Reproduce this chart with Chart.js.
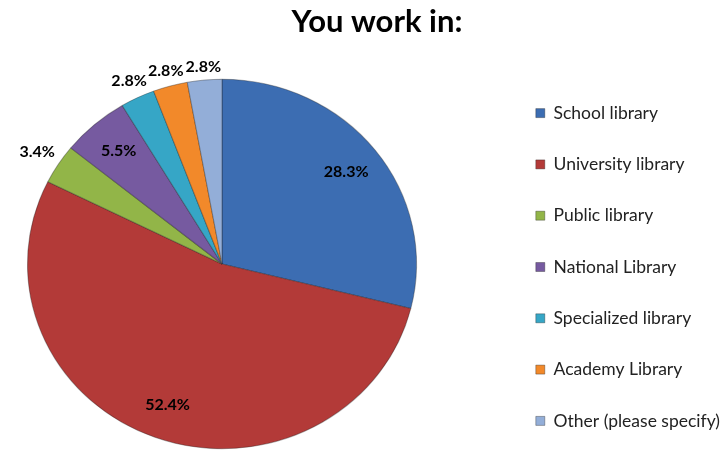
<!DOCTYPE html>
<html>
<head>
<meta charset="utf-8">
<script src="https://cdn.jsdelivr.net/npm/chart.js@4.4.1/dist/chart.umd.min.js"></script>
<style>
  html, body { margin: 0; padding: 0; background: #fff; overflow: hidden; }
  /* canvas is a bit wider than the page so the pie sits left like the original */
  #pieChart { display: block; margin-left: -58px; }
</style>
</head>
<body>
<canvas id="pieChart" width="780" height="464"></canvas>
<script>
// chart data
const chart_title = "You work in:";
const categories = [
  "School library",
  "University library",
  "Public library",
  "National Library",
  "Specialized library",
  "Academy Library",
  "Other (please specify)",
];
const percents = [28.3, 52.4, 3.4, 5.5, 2.8, 2.8, 2.8];
const slice_colors = ["#3c6db2", "#b33a38", "#92b548", "#765aa0", "#36a6c6", "#f2892a", "#93aed8"];

const fontName = "Lato, 'Open Sans', sans-serif";
const shiftX = 58; // canvas offset to the left
// the original pie is a little wider than tall
const stretchX = 1.024;
const stretchY = 0.972;

function mix(hex, target, t) {
  const n = parseInt(hex.slice(1), 16);
  const r = (n >> 16) & 255, g = (n >> 8) & 255, b = n & 255;
  const m = (c) => Math.round(c + (target - c) * t);
  return `rgb(${m(r)},${m(g)},${m(b)})`;
}

// radial fill with a light rim, a bit like the bevel in the original
function sliceFill(context) {
  const base = slice_colors[context.dataIndex];
  const arc = context.element;
  if (!arc || !arc.outerRadius) return base;
  const g = context.chart.ctx.createRadialGradient(arc.x, arc.y, 0, arc.x, arc.y, arc.outerRadius);
  g.addColorStop(0, base);
  g.addColorStop(0.955, base);
  g.addColorStop(0.98, mix(base, 255, 0.18));
  g.addColorStop(1, mix(base, 0, 0.2));
  return g;
}

// squash the pie into a slight ellipse
const stretchPlugin = {
  id: "stretchPlugin",
  beforeDatasetsDraw(chart) {
    const a = chart.chartArea;
    const cx = (a.left + a.right) / 2, cy = (a.top + a.bottom) / 2;
    chart.ctx.save();
    chart.ctx.translate(cx, cy);
    chart.ctx.scale(stretchX, stretchY);
    chart.ctx.translate(-cx, -cy);
  },
  afterDatasetsDraw(chart) {
    chart.ctx.restore();
  },
};

// title + percentage labels
const labelPlugin = {
  id: "labelPlugin",
  afterDatasetsDraw(chart) {
    const ctx = chart.ctx;
    const arcs = chart.getDatasetMeta(0).data;
    ctx.save();
    ctx.fillStyle = "#000";
    ctx.font = "bold 16px " + fontName;
    ctx.textAlign = "center";
    ctx.textBaseline = "middle";
    let placed = [];
    arcs.forEach((arc, i) => {
      const p = arc.getProps(["x", "y", "startAngle", "endAngle", "outerRadius"], true);
      const mid = (p.startAngle + p.endAngle) / 2;
      const txt = percents[i].toFixed(1) + "%";
      const w = ctx.measureText(txt).width;
      const h = 12;
      const cx = Math.cos(mid) * stretchX, cy = Math.sin(mid) * stretchY;
      let r;
      if (percents[i] >= 5) {
        r = p.outerRadius * 0.81;
      } else {
        r = p.outerRadius + 6 + Math.abs(cx) * w / 2 + Math.abs(cy) * h / 2;
        // push outwards while it overlaps an earlier label
        let tries = 0;
        while (tries < 60 && placed.some((b) =>
          Math.abs(b.x - (p.x + cx * r)) < (b.w + w) / 2 &&
          Math.abs(b.y - (p.y + cy * r)) < (b.h + h) / 2 + 14)) {
          r += 1;
          tries++;
        }
      }
      const lx = p.x + cx * r, ly = p.y + cy * r;
      placed.push({ x: lx, y: ly, w: w, h: h });
      ctx.fillText(txt, lx, ly);
    });
    ctx.restore();
  },
  afterDraw(chart) {
    const ctx = chart.ctx;
    ctx.save();
    ctx.fillStyle = "#000";
    ctx.font = "bold 31px " + fontName;
    ctx.textAlign = "center";
    ctx.textBaseline = "alphabetic";
    ctx.fillText(chart_title, 377 + shiftX, 32);
    ctx.restore();
  },
};

const ctxPie = document.getElementById("pieChart").getContext("2d");
const pieChart = new Chart(ctxPie, {
  type: "pie",
  data: {
    labels: categories,
    datasets: [
      {
        data: percents,
        backgroundColor: sliceFill,
        borderColor: "rgba(30,30,30,0.35)",
        borderWidth: 1,
      },
    ],
  },
  options: {
    responsive: false,
    animation: false,
    radius: 190,
    layout: {
      padding: { left: 0, right: 0, top: 64, bottom: 0 },
    },
    plugins: {
      title: { display: false },
      tooltip: { enabled: false },
      legend: {
        position: "right",
        maxWidth: 220,
        // empty title, only used to nudge the items down a few pixels
        title: { display: true, text: "", padding: 0, font: { size: 5 } },
        labels: {
          boxWidth: 9,
          boxHeight: 9,
          padding: 33.8,
          color: "#222",
          font: { family: fontName, size: 17.5 },
          generateLabels(chart) {
            return categories.map((c, i) => ({
              text: c,
              fillStyle: slice_colors[i],
              strokeStyle: "rgba(30,30,30,0.35)",
              fontColor: "#222",
              lineWidth: 1,
              index: i,
              hidden: false,
            }));
          },
        },
      },
    },
  },
  plugins: [stretchPlugin, labelPlugin],
});
</script>
</body>
</html>
